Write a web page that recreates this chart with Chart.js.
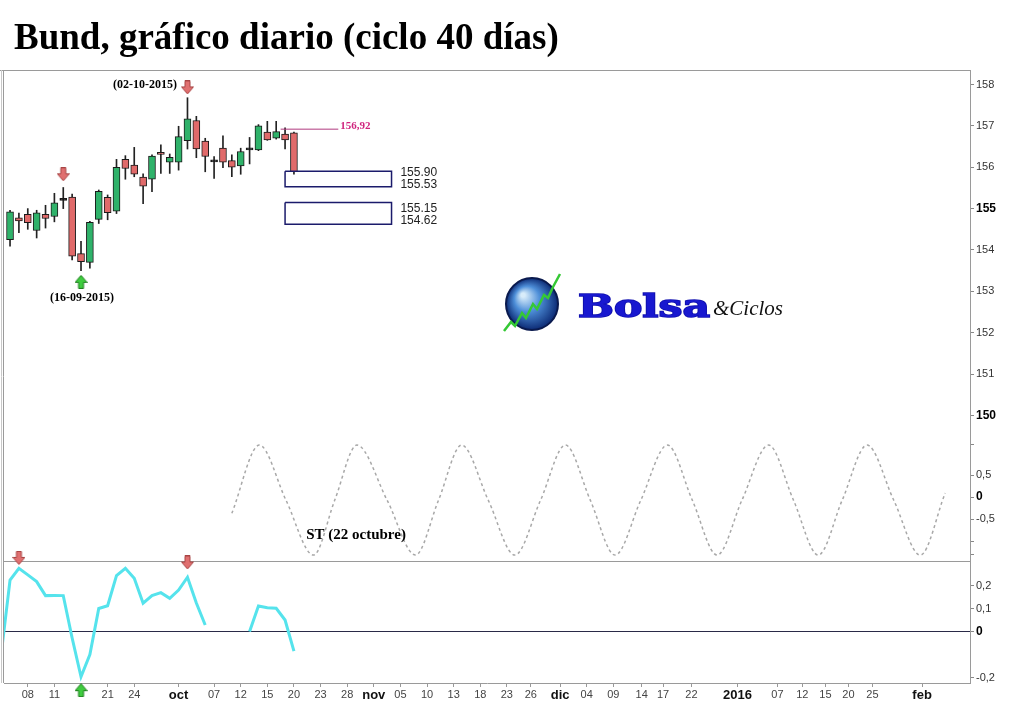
<!DOCTYPE html>
<html>
<head>
<meta charset="utf-8">
<script src="https://cdn.jsdelivr.net/npm/chart.js@4.4.0/dist/chart.umd.min.js"></script>
<style>
  body { margin: 0; background: #fff; }
  #wrap { position: relative; width: 1024px; height: 705px; }
  #title { position: absolute; left: 14px; top: 18px; font: bold 37px 'Liberation Serif', serif; line-height: 1; color: #000; white-space: nowrap; }
</style>
</head>
<body>
<div id="wrap">
  <canvas id="chart" width="1024" height="705"></canvas>
  <div id="title">Bund, gráfico diario (ciclo 40 días)</div>
</div>
<script>
// daily candles, x = trading day index (0 = first bar on the left)
const opens  = [154.25, 154.78, 154.86, 154.47, 154.86, 154.81, 155.20, 155.28, 153.91, 153.70, 154.74, 155.27, 154.94, 156.19, 156.05, 155.76, 155.71,
                156.36, 156.12, 156.12, 156.64, 157.13, 156.63, 156.13, 156.46, 156.16, 156.03, 156.42, 156.42, 156.85, 156.70, 156.80, 156.83];
const highs  = [154.96, 154.89, 155.00, 154.96, 155.08, 155.37, 155.51, 155.35, 154.21, 154.69, 155.45, 155.33, 156.19, 156.28, 156.48, 155.84, 156.30,
                156.54, 156.32, 156.99, 157.68, 157.23, 156.70, 156.26, 156.76, 156.30, 156.46, 156.72, 157.03, 157.11, 157.11, 156.95, 156.85];
const lows   = [154.09, 154.42, 154.50, 154.29, 154.53, 154.68, 155.00, 153.76, 153.50, 153.56, 154.64, 154.73, 154.88, 155.71, 155.77, 155.12, 155.41,
                155.85, 155.85, 155.93, 156.44, 156.23, 155.89, 155.73, 155.99, 155.77, 155.83, 156.08, 156.40, 156.65, 156.68, 156.44, 155.83];
const closes = [154.92, 154.70, 154.66, 154.90, 154.76, 155.14, 155.21, 153.85, 153.72, 154.67, 155.42, 154.90, 156.00, 155.97, 155.83, 155.54, 156.27,
                156.31, 156.24, 156.74, 157.17, 156.44, 156.26, 156.14, 156.12, 156.00, 156.38, 156.43, 157.00, 156.66, 156.86, 156.66, 155.89];

// lower panel oscillator, first value belongs to day -1
const oscFirstDay = -1;
const oscValues = [-0.10, 0.224, 0.275, 0.246, 0.217, 0.156, 0.157, 0.156, -0.028, -0.197, -0.10, 0.10, 0.112, 0.243, 0.275, 0.231, 0.123,
                   0.156, 0.169, 0.144, 0.180, 0.236, 0.124, 0.028, null, null, null, null, 0.0, 0.111, 0.103, 0.101, 0.05, -0.085];

// projected cycle (dashed wave)
const cycleDays   = [25.0, 28.1, 31.1, 34.2, 36.6, 39.1, 42.5, 45.7, 48.3, 50.9, 53.9, 56.9, 59.8, 62.6, 65.4, 68.2, 71.1,
                     74.1, 76.9, 79.7, 82.5, 85.5, 88.3, 91.1, 93.8, 96.6, 99.6, 102.6, 105.4];
const cycleValues = [-0.37, 1.18, -0.07, -1.32, -0.07, 1.18, -0.07, -1.32, -0.07, 1.18, -0.07, -1.32, -0.07, 1.18, -0.07, -1.32, -0.07,
                     1.18, -0.07, -1.32, -0.07, 1.18, -0.07, -1.32, -0.07, 1.18, -0.07, -1.32, 0.09];

// resistance line and target zones
const resistance = 156.92;
const resistanceDays = [30.5, 37];
const zoneLevels = [[155.90, 155.53], [155.15, 154.62]];
const zoneDays = [31, 43];
const zoneLabelLevels = [155.87, 155.59, 155.01, 154.70];

// turning point markers
const priceTopDays = [6, 20],  priceTopLevels = [155.83, 157.93];
const priceLowDays = [8],      priceLowLevels = [153.23];
const oscTopDays = [1, 20],    oscTopLevels = [0.32, 0.30];
const oscLowDays = [8],        oscLowLevels = [-0.255];

const dateNotes = ['(02-10-2015)', '(16-09-2015)'];
const dateNoteDays = [15.2, 8.1];
const dateNoteLevels = [157.99, 152.84];
const cycleNote = 'ST (22 octubre)', cycleNoteDay = 39, cycleNoteValue = -0.86;

// axes
const dateTickPos = [2, 5, 11, 14, 19, 23, 26, 29, 32, 35, 38, 41, 44, 47, 50, 53, 56, 58.7, 62, 65, 68, 71.2, 73.6, 76.8, 82, 86.5, 89.3, 91.9, 94.5, 97.2, 102.8];
const dateTickLabels = ['08', '11', '21', '24', 'oct', '07', '12', '15', '20', '23', '28', 'nov', '05', '10', '13', '18', '23', '26', 'dic',
                        '04', '09', '14', '17', '22', '2016', '07', '12', '15', '20', '25', 'feb'];
const monthLabels = ['oct', 'nov', 'dic', '2016', 'feb'];
const priceTicks = [158, 157, 156, 155, 154, 153, 152, 151, 150];
const priceBold = [155, 150];
const cycleTicks = [1.2, 0.5, 0, -0.5, -1, -1.3];
const cycleTickLabels = ['', '0,5', '0', '-0,5', '', ''];
const oscTicks = [0.2, 0.1, 0, -0.2];
const oscTickLabels = ['0,2', '0,1', '0', '-0,2'];

const SANS = 'Liberation Sans';
const SERIF = 'Liberation Serif';

function arrowImg(up, fill, stroke) {
    const c = document.createElement('canvas');
    c.width = 13; c.height = 14;
    const g = c.getContext('2d');
    const pts = [[4, 0.5], [9, 0.5], [9, 6.5], [12.5, 6.5], [6.5, 13.5], [0.5, 6.5], [4, 6.5]];
    g.beginPath();
    pts.forEach(([x, y], i) => {
        const yy = up ? 14 - y : y;
        if (i === 0) g.moveTo(x, yy); else g.lineTo(x, yy);
    });
    g.closePath();
    g.fillStyle = fill; g.fill();
    g.strokeStyle = stroke; g.lineWidth = 1; g.stroke();
    return c;
}
const redDown = arrowImg(false, '#e07070', '#a84444');
const greenUp = arrowImg(true, '#3fcc3f', '#1f7f1f');

const pts = (xs, ys) => xs.map((x, i) => ({x: x, y: ys[i]}));

function bodyColor(i) {
    const d = closes[i] - opens[i];
    if (Math.abs(d) < 0.03) return '#111';
    return d > 0 ? '#2fb26a' : '#e06a6a';
}

const datasets = [
    {
        type: 'bar', yAxisID: 'yP', order: 1, grouped: false,
        data: opens.map((o, i) => ({x: i, y: [o, closes[i]]})),
        backgroundColor: opens.map((o, i) => bodyColor(i)),
        borderColor: '#1a1a1a', borderWidth: 1, borderSkipped: false,
        barThickness: 7, minBarLength: 2
    },
    {
        type: 'bar', yAxisID: 'yP', order: 2, grouped: false,
        data: lows.map((l, i) => ({x: i, y: [l, highs[i]]})),
        backgroundColor: '#222', barThickness: 1
    },
    {
        type: 'line', yAxisID: 'yP', order: 0,
        data: pts(resistanceDays, [resistance, resistance]),
        borderColor: '#b03a7e', borderWidth: 1, pointRadius: 0
    }
];

zoneLevels.forEach(([hi, lo]) => {
    datasets.push({
        type: 'line', yAxisID: 'yP', order: 0,
        data: pts([zoneDays[0], zoneDays[1], zoneDays[1], zoneDays[0], zoneDays[0]], [hi, hi, lo, lo, hi]),
        borderColor: '#1b1b6b', borderWidth: 1.5, pointRadius: 0, tension: 0
    });
});

datasets.push({
    type: 'line', yAxisID: 'yS', order: 3,
    data: pts(cycleDays, cycleValues),
    borderColor: '#a8a8a8', borderWidth: 1.5, borderDash: [3, 3],
    cubicInterpolationMode: 'monotone', pointRadius: 0
});

datasets.push({
    type: 'line', yAxisID: 'yO', order: 3,
    data: oscValues.map((v, i) => ({x: oscFirstDay + i, y: v})),
    borderColor: '#55e3ec', borderWidth: 3, pointRadius: 0, spanGaps: false
});

[[priceTopDays, priceTopLevels, 'yP', redDown], [priceLowDays, priceLowLevels, 'yP', greenUp],
 [oscTopDays, oscTopLevels, 'yO', redDown], [oscLowDays, oscLowLevels, 'yO', greenUp]].forEach(([xs, ys, axis, img]) => {
    datasets.push({
        type: 'scatter', yAxisID: axis, order: 0, clip: false,
        data: pts(xs, ys), pointStyle: img, pointRadius: 7
    });
});

const tickVal = c => (c && c.tick) ? c.tick.value : NaN;

const rightAxis = (min, max, weight, ticks, labelFn, boldFn) => ({
    type: 'linear', position: 'right', stack: 'main', stackWeight: weight,
    min: min, max: max,
    afterBuildTicks: s => { s.ticks = ticks.map(v => ({value: v})); },
    afterFit: s => { s.width = 54; },
    border: {display: true, color: '#9a9a9a'},
    grid: {drawOnChartArea: false, drawTicks: true, tickLength: 4, color: '#888', tickColor: '#888'},
    ticks: {
        autoSkip: false, padding: 2,
        callback: (v, i) => labelFn(v, i),
        color: c => boldFn(tickVal(c)) ? '#000' : '#333',
        font: c => boldFn(tickVal(c)) ? {family: SANS, size: 12, weight: 'bold'} : {family: SANS, size: 11}
    }
});

const yP = rightAxis(149.649, 158.35, 360, priceTicks, v => String(v), v => priceBold.includes(v));
const yS = rightAxis(-1.454, 1.523, 131, cycleTicks, (v, i) => cycleTickLabels[i], v => v === 0);
const yO = rightAxis(-0.2239, 0.3065, 122, oscTicks, (v, i) => oscTickLabels[i], v => v === 0);
yO.grid = {drawOnChartArea: true, drawTicks: true, tickLength: 4, tickColor: '#888',
           color: c => tickVal(c) === 0 ? '#2a2a48' : 'rgba(0,0,0,0)'};

const isMonth = c => (c && c.index !== undefined) && monthLabels.includes(dateTickLabels[c.index]);

const overlay = {
    id: 'overlay',
    beforeDatasetsDraw(chart) {
        const ctx = chart.ctx, a = chart.chartArea;
        ctx.save();
        ctx.lineWidth = 1;
        ctx.strokeStyle = '#9a9a9a';
        ctx.beginPath();
        ctx.moveTo(0, a.top + 0.5); ctx.lineTo(a.right, a.top + 0.5);
        const sep = Math.round(chart.scales.yO.top) + 0.5;
        ctx.moveTo(a.left, sep); ctx.lineTo(a.right, sep);
        ctx.moveTo(Math.round(a.left) - 0.5, a.top); ctx.lineTo(Math.round(a.left) - 0.5, a.bottom);
        ctx.stroke();
        ctx.strokeStyle = '#c8c8c8';
        ctx.beginPath(); ctx.moveTo(1.5, a.top); ctx.lineTo(1.5, a.bottom); ctx.stroke();

        // Bolsa & Ciclos logo
        const cx = 532, cy = 304, r = 26;
        const grd = ctx.createRadialGradient(cx - 9, cy - 9, 2, cx, cy, r);
        grd.addColorStop(0, '#d8ecfa');
        grd.addColorStop(0.45, '#4d8ed8');
        grd.addColorStop(1, '#0c2a74');
        ctx.beginPath(); ctx.arc(cx, cy, r, 0, Math.PI * 2);
        ctx.fillStyle = grd; ctx.fill();
        ctx.lineWidth = 2; ctx.strokeStyle = '#0a1a4e'; ctx.stroke();
        const zz = [[504, 331], [511, 322], [515, 326], [522, 313], [526, 318], [533, 304], [537, 309], [544, 295], [548, 298], [553, 287], [560, 274]];
        ctx.beginPath();
        zz.forEach(([x, y], i) => i ? ctx.lineTo(x, y) : ctx.moveTo(x, y));
        ctx.lineWidth = 2.5; ctx.strokeStyle = '#35c835'; ctx.stroke();
        ctx.font = 'bold 32px "DejaVu Serif"';
        const w = ctx.measureText('Bolsa').width;
        ctx.save();
        ctx.translate(578, 317);
        ctx.scale(132 / w, 1);
        ctx.fillStyle = '#1818d0';
        ctx.strokeStyle = '#1010b0';
        ctx.lineWidth = 1.6;
        ctx.strokeText('Bolsa', 0, 0);
        ctx.fillText('Bolsa', 0, 0);
        ctx.restore();
        ctx.font = 'italic 21px ' + SERIF;
        ctx.fillStyle = '#111';
        ctx.fillText('&Ciclos', 713, 315);
        ctx.restore();
    },
    afterDatasetsDraw(chart) {
        const ctx = chart.ctx, x = chart.scales.x, p = chart.scales.yP, s = chart.scales.yS;
        ctx.save();
        ctx.textBaseline = 'middle';
        ctx.textAlign = 'center';
        ctx.fillStyle = '#000';
        ctx.font = 'bold 12px ' + SERIF;
        dateNotes.forEach((t, i) => ctx.fillText(t, x.getPixelForValue(dateNoteDays[i]), p.getPixelForValue(dateNoteLevels[i])));
        ctx.font = 'bold 15px ' + SERIF;
        ctx.fillText(cycleNote, x.getPixelForValue(cycleNoteDay), s.getPixelForValue(cycleNoteValue));
        ctx.textAlign = 'left';
        ctx.font = 'bold 11px ' + SERIF;
        ctx.fillStyle = '#d0247e';
        ctx.fillText(resistance.toFixed(2).replace('.', ','), x.getPixelForValue(resistanceDays[1]) + 2, p.getPixelForValue(resistance) - 3);
        ctx.font = '12px ' + SANS;
        ctx.fillStyle = '#222';
        zoneLevels.flat().forEach((v, i) => ctx.fillText(v.toFixed(2), x.getPixelForValue(zoneDays[1] + 1), p.getPixelForValue(zoneLabelLevels[i])));
        ctx.restore();
    }
};

new Chart(document.getElementById('chart'), {
    type: 'bar',
    data: {datasets: datasets},
    options: {
        responsive: false,
        animation: false,
        events: [],
        layout: {autoPadding: false, padding: {top: 70, left: 4, right: 0, bottom: 0}},
        plugins: {legend: {display: false}, tooltip: {enabled: false}, title: {display: false}},
        scales: {
            x: {
                type: 'linear', min: -0.68, max: 108.2, offset: false, bounds: 'data',
                afterBuildTicks: s => { s.ticks = dateTickPos.map(v => ({value: v})); },
                afterFit: s => { s.height = 22; s.paddingLeft = 0; s.paddingRight = 0; },
                border: {display: true, color: '#9a9a9a'},
                grid: {offset: false, drawOnChartArea: false, drawTicks: true, tickLength: 4, color: '#999', tickColor: '#999'},
                ticks: {
                    autoSkip: false, maxRotation: 0, padding: 1,
                    callback: (v, i) => dateTickLabels[i],
                    color: c => isMonth(c) ? '#111' : '#444',
                    font: c => isMonth(c) ? {family: SANS, size: 13, weight: 'bold'} : {family: SANS, size: 11}
                }
            },
            yP: yP,
            yS: yS,
            yO: yO
        }
    },
    plugins: [overlay]
});
</script>
</body>
</html>
